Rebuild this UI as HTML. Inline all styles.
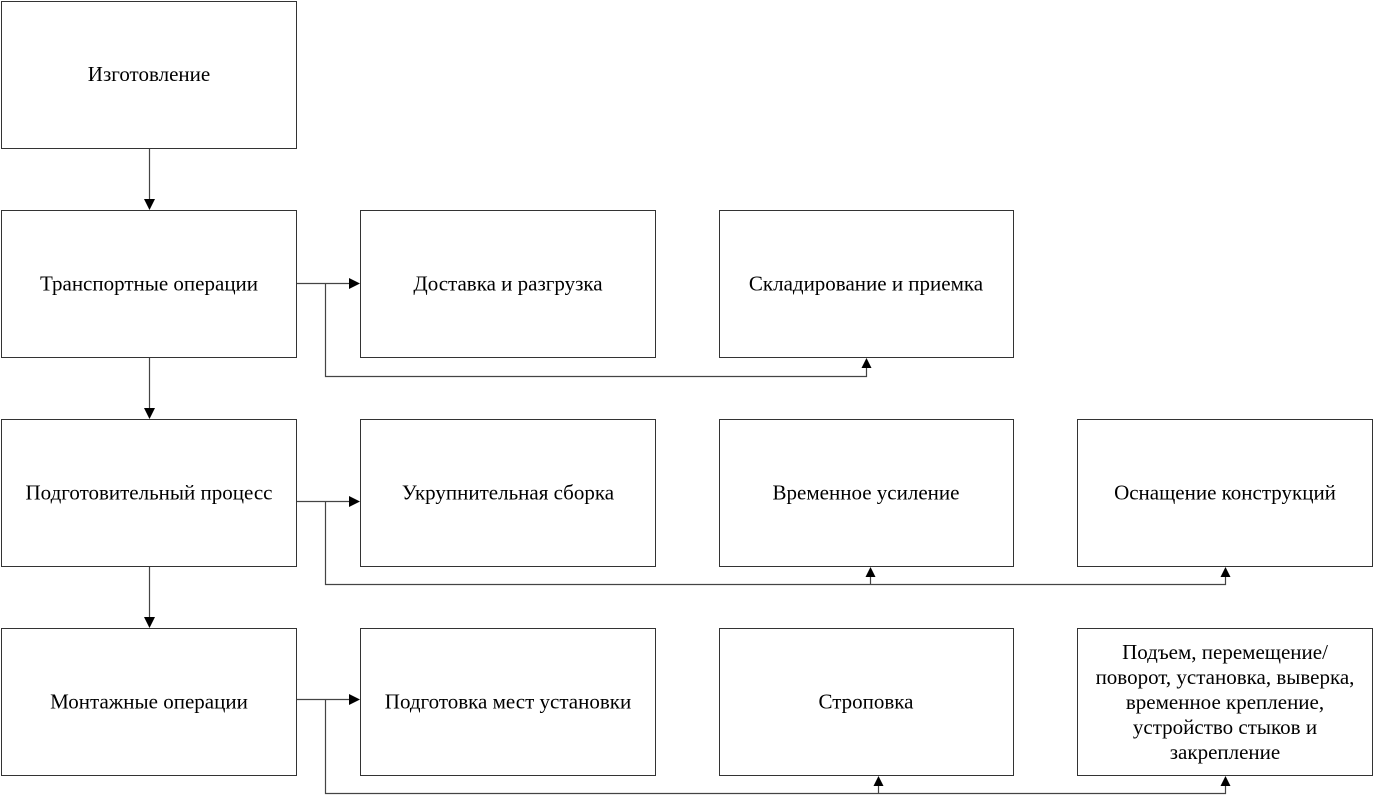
<!DOCTYPE html>
<html>
<head>
<meta charset="utf-8">
<style>
html,body{margin:0;padding:0;background:#fff;}
svg{display:block;}
text{font-family:"Liberation Serif","DejaVu Serif",serif;font-size:21px;fill:#000;}
</style>
</head>
<body>
<svg width="1374" height="795" viewBox="0 0 1374 795" xmlns="http://www.w3.org/2000/svg">
<g fill="#fff" stroke="#333" stroke-width="1">
<rect x="1.5" y="1.5" width="295" height="147"/>
<rect x="1.5" y="210.5" width="295" height="147"/>
<rect x="1.5" y="419.5" width="295" height="147"/>
<rect x="1.5" y="628.5" width="295" height="147"/>
<rect x="360.5" y="210.5" width="295" height="147"/>
<rect x="360.5" y="419.5" width="295" height="147"/>
<rect x="360.5" y="628.5" width="295" height="147"/>
<rect x="719.5" y="210.5" width="294" height="147"/>
<rect x="719.5" y="419.5" width="294" height="147"/>
<rect x="719.5" y="628.5" width="294" height="147"/>
<rect x="1077.5" y="419.5" width="295" height="147"/>
<rect x="1077.5" y="628.5" width="295" height="147"/>
</g>
<g fill="none" stroke="#444" stroke-width="1.2">
<line x1="149.5" y1="149" x2="149.5" y2="200"/>
<line x1="149.5" y1="358" x2="149.5" y2="409"/>
<line x1="149.5" y1="567" x2="149.5" y2="618"/>
<line x1="297" y1="283.5" x2="350" y2="283.5"/>
<line x1="297" y1="501.5" x2="350" y2="501.5"/>
<line x1="297" y1="699.5" x2="350" y2="699.5"/>
<polyline points="325.5,283.5 325.5,376.5 866.5,376.5 866.5,368"/>
<polyline points="325.5,501.5 325.5,584.5 1225.5,584.5 1225.5,577"/>
<line x1="870.5" y1="584.5" x2="870.5" y2="577"/>
<polyline points="325.5,699.5 325.5,793.5 1225.5,793.5 1225.5,786"/>
<line x1="878.5" y1="793.5" x2="878.5" y2="786"/>
</g>
<g fill="#000">
<polygon points="144,199 155,199 149.5,210"/>
<polygon points="144,408 155,408 149.5,419"/>
<polygon points="144,617 155,617 149.5,628"/>
<polygon points="349,278 349,289 360,283.5"/>
<polygon points="349,496 349,507 360,501.5"/>
<polygon points="349,694 349,705 360,699.5"/>
<polygon points="861.5,368 871.5,368 866.5,358"/>
<polygon points="865.5,577 875.5,577 870.5,567"/>
<polygon points="1220.5,577 1230.5,577 1225.5,567"/>
<polygon points="873.5,786 883.5,786 878.5,776"/>
<polygon points="1220.5,786 1230.5,786 1225.5,776"/>
</g>
<g text-anchor="middle">
<text x="149" y="81">Изготовление</text>
<text x="149" y="290.5">Транспортные операции</text>
<text x="149" y="499.5">Подготовительный процесс</text>
<text x="149" y="708.5">Монтажные операции</text>
<text x="508" y="290.5">Доставка и разгрузка</text>
<text x="508" y="499.5">Укрупнительная сборка</text>
<text x="508" y="708.5">Подготовка мест установки</text>
<text x="866" y="290.5">Складирование и приемка</text>
<text x="866" y="499.5">Временное усиление</text>
<text x="866" y="708.5">Строповка</text>
<text x="1225" y="499.5">Оснащение конструкций</text>
<text x="1225" y="659">Подъем, перемещение/</text>
<text x="1225" y="684">поворот, установка, выверка,</text>
<text x="1225" y="709">временное крепление,</text>
<text x="1225" y="734">устройство стыков и</text>
<text x="1225" y="759">закрепление</text>
</g>
</svg>
</body>
</html>
